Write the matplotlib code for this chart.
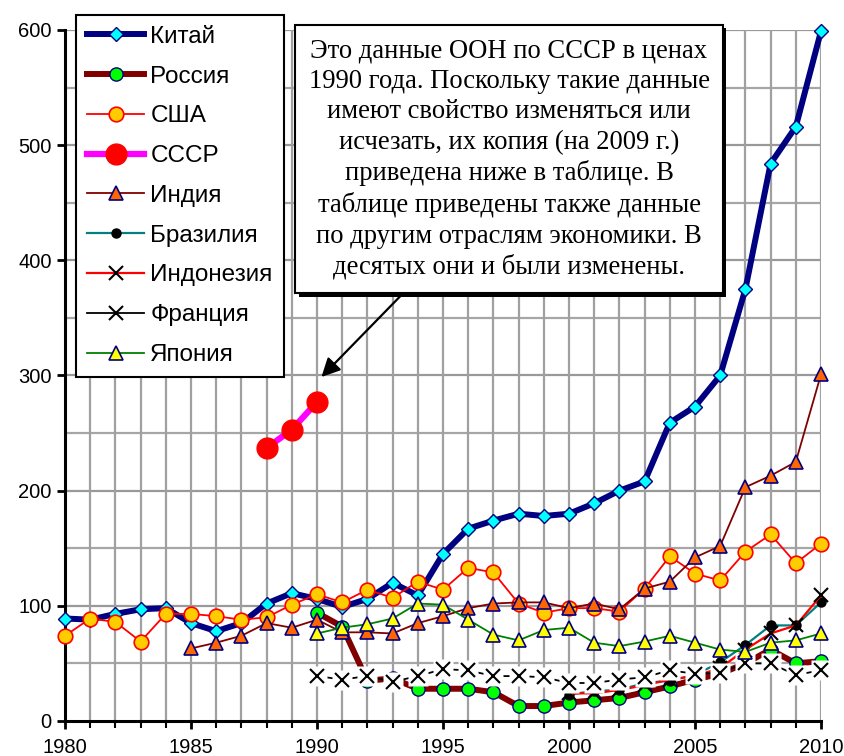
import numpy as np
import matplotlib
matplotlib.use("Agg")
import matplotlib.pyplot as plt
from matplotlib.ticker import MultipleLocator
import matplotlib.patheffects as pe

plt.rcParams['font.family'] = ['Liberation Sans', 'DejaVu Sans']

# --- данные ---
years_all = list(range(1980, 2011))
years_90 = list(range(1990, 2011))
years_85 = list(range(1985, 2011))
years_00 = list(range(2000, 2011))
years_ussr = [1988, 1989, 1990]

china = [89, 88, 93, 97, 98, 85, 78, 85, 102, 111, 106, 99, 106, 120, 109, 145,
         167, 174, 180, 178, 180, 189, 200, 208, 259, 273, 300, 375, 484, 516, 599]
russia = [94, 82, 35, 37, 28, 28, 28, 25, 13, 13, 16, 18, 20, 25, 30, 36, 41, 50,
          62, 50, 52]
usa = [74, 89, 86, 69, 93, 93, 91, 88, 90, 101, 110, 103, 114, 107, 121, 114, 133,
       129, 102, 94, 98, 98, 95, 115, 143, 128, 122, 147, 162, 137, 154]
ussr = [237, 253, 277]
india = [63, 68, 74, 85, 81, 88, 77, 77, 76, 85, 91, 98, 102, 103, 103, 98, 102, 97,
         115, 121, 142, 152, 203, 213, 225, 301]
brazil = [23, 26, 27, 33, 35, 40, 51, 66, 83, 83, 103]
indonesia = [24, 24, 27, 31, 36, 39, 46, 62, 76, 83, 109]
france = [39, 36, 39, 34, 39, 45, 44, 39, 39, 38, 33, 33, 36, 38, 44, 41, 42, 50,
          50, 40, 44]
japan = [76, 81, 84, 89, 102, 101, 88, 75, 70, 79, 81, 68, 65, 69, 74, 68, 62, 60,
         68, 70, 76]

note = ("Это данные ООН по СССР в ценах\n"
        "1990 года. Поскольку такие данные\n"
        "имеют свойство изменяться или\n"
        "исчезать, их копия (на 2009 г.)\n"
        "приведена ниже в таблице. В\n"
        "таблице приведены также данные\n"
        "по другим отраслям экономики. В\n"
        "десятых они и были изменены.")

fig = plt.figure(figsize=(8.44, 7.56), dpi=100)
ax = fig.add_axes([65/844, 1 - 721/756, (821-65)/844, (721-30)/756])

# сетка
for y in range(50, 601, 50):
    ax.axhline(y, color='#a6a6a6' if y % 100 else '#999999', lw=1.6, zorder=0)
for x in range(1981, 2011):
    ax.axvline(x, color='#a0a0a0', lw=1.6, zorder=0)

handles = []
h, = ax.plot(years_all, china, color='#000080', lw=4.3, marker='D', ms=7,
             mfc='#00ffff', mec='#000080', mew=1, clip_on=False, zorder=3,
             label='Китай')
handles.append(h)
h, = ax.plot(years_90, russia, color='#800000', lw=4.3, marker='o', ms=9.5,
             mfc='#00ff00', mec='#000080', mew=1, clip_on=False, zorder=3,
             label='Россия')
handles.append(h)
h, = ax.plot(years_all, usa, color='#ff0000', lw=1.3, marker='o', ms=10.5,
             mfc='#ffcc00', mec='#ff0000', mew=1.2, clip_on=False, zorder=3,
             label='США')
handles.append(h)
h, = ax.plot(years_ussr, ussr, color='#ff00ff', lw=4.5, marker='o', ms=15,
             mfc='#ff0000', mec='#ff0000', clip_on=False, zorder=3,
             label='СССР')
handles.append(h)
h, = ax.plot(years_85, india, color='#800000', lw=1.3, marker='^', ms=10,
             mfc='#ff6600', mec='#000080', mew=1.2, clip_on=False, zorder=3,
             label='Индия')
handles.append(h)
h, = ax.plot(years_00, brazil, color='#008080', lw=1.6, marker='o', ms=6.5,
             mfc='black', mec='black', clip_on=False, zorder=3,
             label='Бразилия')
handles.append(h)
h, = ax.plot(years_00, indonesia, color='#ff0000', lw=1.6, marker='x', ms=10,
             mec='black', mew=1.5, clip_on=False, zorder=3,
             label='Индонезия')
handles.append(h)
h, = ax.plot(years_90, france, color='black', lw=1.3, marker='x', ms=10,
             mec='black', mew=1.5, clip_on=False, zorder=3, label='Франция')
# белые подложки под крестиками Франции
ax.plot(years_90, france, ls='none', marker='s', ms=15, mfc='white', mec='none',
        clip_on=False, zorder=3.5)
ax.plot(years_90, france, ls='none', marker='x', ms=10, mec='black', mew=1.5,
        clip_on=False, zorder=3.6)
handles.append(h)
h, = ax.plot(years_90, japan, color='#008000', lw=1.3, marker='^', ms=10,
             mfc='#ffff00', mec='#000080', mew=1.2, clip_on=False, zorder=4,
             label='Япония')
handles.append(h)

ax.set_xlim(1980, 2010)
ax.set_ylim(0, 600)
ax.xaxis.set_major_locator(MultipleLocator(5))
ax.xaxis.set_minor_locator(MultipleLocator(1))
ax.yaxis.set_major_locator(MultipleLocator(100))
ax.tick_params(axis='both', which='major', labelsize=14.5, direction='out',
               length=6, width=2)
ax.tick_params(axis='x', which='major', pad=6)
ax.tick_params(axis='x', which='minor', direction='out', length=5, width=1.5)
for s in ['top', 'right']:
    ax.spines[s].set_visible(False)
for s in ['left', 'bottom']:
    ax.spines[s].set_linewidth(2.2)

leg = fig.legend(handles=handles, loc='upper left',
                 bbox_to_anchor=(76/844, 1 - 15/756), borderaxespad=0,
                 fontsize=17.5, handlelength=2.36, labelspacing=0.73,
                 handletextpad=0.25, borderpad=0.45, fancybox=False,
                 framealpha=1, edgecolor='black')
leg.get_frame().set_linewidth(1.5)
leg.set_zorder(10)

t = fig.text(509/844, 1 - 159/756, note, ha='center', va='center',
             fontsize=19.2, family=['Liberation Serif', 'DejaVu Serif'],
             linespacing=1.29,
             bbox=dict(boxstyle='square,pad=0.5', fc='white', ec='black',
                       lw=1.5), zorder=10)
t.get_bbox_patch().set_path_effects(
    [pe.SimplePatchShadow(offset=(2.5, -2.5), shadow_rgbFace='black', alpha=1),
     pe.Normal()])

ax.annotate('', xy=(1990.1, 297), xytext=(1993.4, 371),
            arrowprops=dict(arrowstyle='-|>', color='black', lw=1.6,
                            mutation_scale=28), zorder=9, annotation_clip=False)

fig.savefig('out.png', dpi=100)
